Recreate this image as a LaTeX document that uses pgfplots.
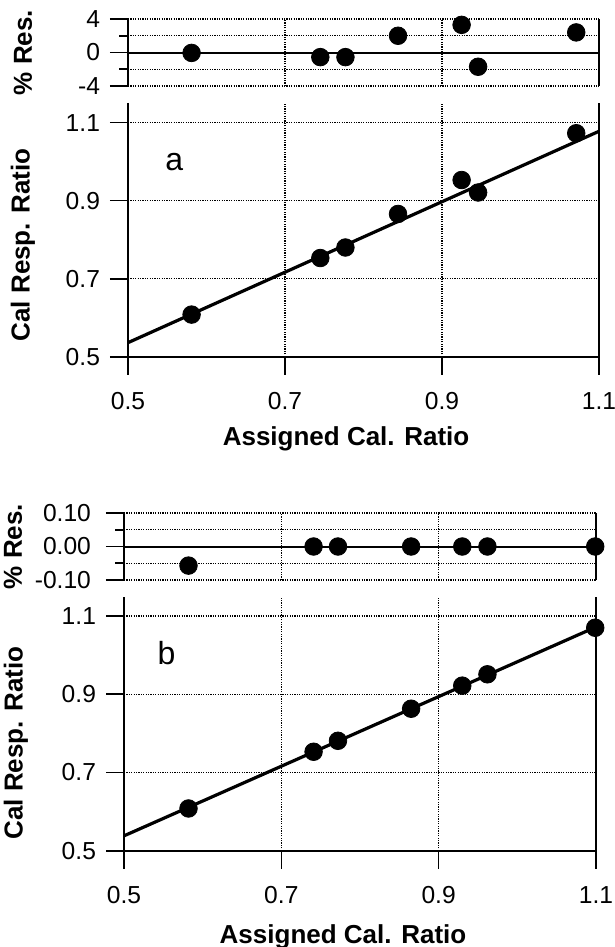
\documentclass[border=0pt]{standalone}
\usepackage{fontspec}
\setmainfont{Liberation Sans}
\usepackage{pgfplots}
\pgfplotsset{compat=1.18}
\pgfplotsset{
  base/.style={
    scale only axis, xmin=0.5, xmax=1.1,
    axis line style={draw=none},
    tick align=outside,
    major tick length=9pt, minor tick length=4.3pt,
    tick style={black, line width=0.8pt},
    xtick pos=lower, ytick pos=left,
    /pgf/number format/assume math mode=true,
    tick label style={font=\fontsize{12.3}{14}\selectfont},
    label style={font=\fontsize{13}{15}\selectfont\bfseries},
    major grid style={dash pattern=on 0.6pt off 0.6pt, black, line width=0.6pt},
    minor grid style={dash pattern=on 0.6pt off 0.6pt, black, line width=0.6pt},
    xtick={0.5,0.7,0.9,1.1},
    clip=false,
  },
  res/.style={base, height=33.5pt, grid=both, xticklabels={}, xtick style={draw=none}},
  main/.style={base, height=126.85pt, grid=major, ymin=0.5,
    ytick={0.5,0.7,0.9,1.1},
    xticklabel style={yshift=-5.5pt},
    yticklabel style={xshift=-1.5pt, /pgf/number format/fixed, /pgf/number format/precision=1},
    xticklabel style={/pgf/number format/fixed, /pgf/number format/precision=1}},
}
\begin{document}
\begin{tikzpicture}
\path[use as bounding box] (0,0) rectangle (307.5pt,-473.5pt);
% ---------- panel a : residuals
\begin{axis}[res, at={(64pt,-43pt)}, anchor=south west, width=235.5pt,
  ymin=-4, ymax=4, ytick={-4,0,4}, minor ytick={-2,2},
  yticklabel style={xshift=-1.5pt},
  ylabel={\% Res.},
  ylabel style={at={(rel axis cs:-0.223,0.5)}, anchor=center}]
\draw[line width=1pt] (axis cs:0.5,0) -- (axis cs:1.1,0);
\draw[line width=0.8pt] (rel axis cs:0,0) -- (rel axis cs:0,1);
\draw[line width=0.8pt] (rel axis cs:1,0) -- (rel axis cs:1,1);
\addplot[only marks, mark=*, mark size=4.4pt, black] coordinates {
(0.581,-0.05) (0.745,-0.55) (0.777,-0.55) (0.844,2.0) (0.925,3.3) (0.946,-1.7) (1.071,2.4)};
\end{axis}
% ---------- panel a : calibration
\begin{axis}[main, at={(64pt,-178.35pt)}, anchor=south west, width=235.5pt,
  ymax=1.1505,
  xlabel={Assigned Cal. Ratio}, ylabel={Cal Resp. Ratio},
  ylabel style={at={(rel axis cs:-0.223,0.441)}, anchor=center},
  xlabel style={at={(rel axis cs:0.463,-0.323)}, anchor=center}]
\draw[line width=0.8pt] (rel axis cs:0,1) -- (rel axis cs:0,0) -- (rel axis cs:1,0) -- (rel axis cs:1,1);
\addplot[black, line width=1.6pt] coordinates {(0.5,0.536) (1.1,1.078)};
\addplot[only marks, mark=*, mark size=4.4pt, black] coordinates {
(0.581,0.608) (0.745,0.753) (0.777,0.780) (0.844,0.866) (0.925,0.953) (0.946,0.921) (1.071,1.073)};
\node[font=\fontsize{16}{18}\selectfont] at (axis cs:0.559,1.0) {a};
\end{axis}
% ---------- panel b : residuals
\begin{axis}[res, at={(62pt,-290pt)}, anchor=south west, width=236pt,
  ymin=-0.1, ymax=0.1, ytick={-0.1,0,0.1}, minor ytick={-0.05,0.05},
  yticklabel style={xshift=-4pt, /pgf/number format/fixed, /pgf/number format/fixed zerofill, /pgf/number format/precision=2},
  ylabel={\% Res.},
  ylabel style={at={(rel axis cs:-0.235,0.5)}, anchor=center}]
\draw[line width=1pt] (axis cs:0.5,0) -- (axis cs:1.1,0);
\draw[line width=0.8pt] (rel axis cs:0,0) -- (rel axis cs:0,1);
\draw[line width=0.8pt] (rel axis cs:1,0) -- (rel axis cs:1,1);
\addplot[only marks, mark=*, mark size=4.4pt, black] coordinates {
(0.582,-0.057) (0.741,0) (0.772,0) (0.865,0) (0.930,0) (0.962,0) (1.099,0)};
\end{axis}
% ---------- panel b : calibration
\begin{axis}[main, at={(62pt,-425.35pt)}, anchor=south west, width=236pt,
  ymax=1.1486,
  xlabel={Assigned Cal. Ratio}, ylabel={Cal Resp. Ratio},
  ylabel style={at={(rel axis cs:-0.229,0.425)}, anchor=center},
  xlabel style={at={(rel axis cs:0.464,-0.339)}, anchor=center}]
\draw[line width=0.8pt] (rel axis cs:0,1) -- (rel axis cs:0,0) -- (rel axis cs:1,0) -- (rel axis cs:1,1);
\addplot[black, line width=1.6pt] coordinates {(0.5,0.538) (1.1,1.072)};
\addplot[only marks, mark=*, mark size=4.4pt, black] coordinates {
(0.582,0.608) (0.741,0.753) (0.772,0.781) (0.865,0.863) (0.930,0.922) (0.962,0.951) (1.099,1.070)};
\node[font=\fontsize{16}{18}\selectfont] at (axis cs:0.554,1.005) {b};
\end{axis}
\end{tikzpicture}
\end{document}
